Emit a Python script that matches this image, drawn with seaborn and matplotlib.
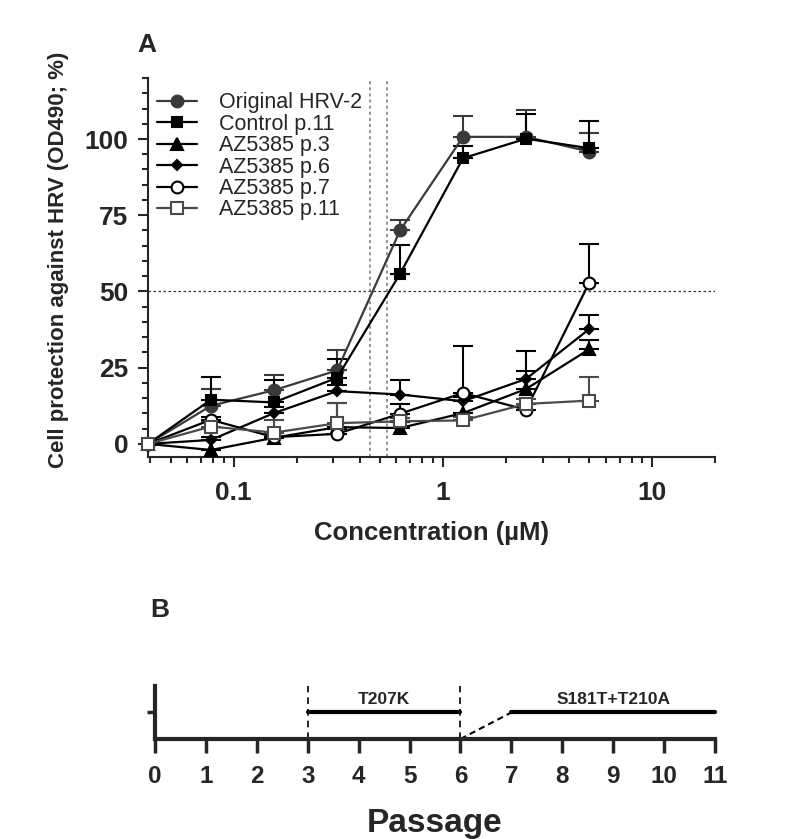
import matplotlib
matplotlib.use('Agg')
import matplotlib.pyplot as plt
import seaborn as sns
import pandas as pd
import numpy as np
from matplotlib.ticker import FixedLocator, NullFormatter, LogLocator

# ---- Panel A data ----
conc = [0.039, 0.078, 0.156, 0.3125, 0.625, 1.25, 2.5, 5]
series = ['Original HRV-2', 'Control p.11', 'AZ5385 p.3', 'AZ5385 p.6', 'AZ5385 p.7', 'AZ5385 p.11']

orig_hrv2 = [0, 12.5, 17.6, 24.1, 70.0, 100.7, 100.7, 95.9]
orig_hrv2_err = [0, 5.5, 4.9, 6.6, 3.4, 7.0, 8.7, 6.0]
control_p11 = [0, 14.5, 13.6, 21.7, 55.8, 93.7, 100.1, 97.0]
control_p11_err = [0, 7.5, 7.3, 6.0, 9.3, 4.0, 8.0, 8.8]
az_p3 = [0, -2.0, 2.0, 5.5, 5.2, 10.1, 18.0, 31.0]
az_p3_err = [0, 0, 1.5, 8.0, 2.0, 5.5, 5.9, 3.0]
az_p6 = [0, 1.3, 10.1, 17.3, 16.2, 14.0, 21.3, 37.6]
az_p6_err = [0, 1.0, 2.0, 2.0, 4.9, 1.5, 9.2, 4.6]
az_p7 = [0, 7.9, 2.2, 3.3, 9.9, 16.7, 11.2, 52.7]
az_p7_err = [0, 1.0, 1.5, 1.5, 3.3, 15.4, 2.0, 12.8]
az_p11 = [0, 5.7, 3.7, 6.8, 7.4, 7.7, 13.1, 14.2]
az_p11_err = [0, 1.5, 4.2, 6.7, 1.0, 1.0, 1.5, 7.7]

values = [orig_hrv2, control_p11, az_p3, az_p6, az_p7, az_p11]
errors = [orig_hrv2_err, control_p11_err, az_p3_err, az_p6_err, az_p7_err, az_p11_err]

ec50_lines = [0.45, 0.54]
half_line = 50

# ---- Panel B data ----
passages = list(range(0, 12))
mutations = ['T207K', 'S181T+T210A']
mut_start = [3, 7]
mut_end = [6, 11]

df = pd.DataFrame({
    'conc': np.tile(conc, len(series)),
    'prot': np.concatenate(values),
    'err': np.concatenate(errors),
    'series': np.repeat(series, len(conc)),
})

sns.set_style('ticks')
plt.rcParams['font.family'] = ['Liberation Sans', 'DejaVu Sans']

fig = plt.figure(figsize=(7.93, 8.39), dpi=100)
ax = fig.add_axes([0.1866, 0.4553, 0.7150, 0.4517])

styles = {
    'Original HRV-2': dict(marker='o', color='#3a3a3a', mfc='#3a3a3a', ms=8.5),
    'Control p.11': dict(marker='s', color='black', mfc='black', ms=7.5),
    'AZ5385 p.3': dict(marker='^', color='black', mfc='black', ms=8),
    'AZ5385 p.6': dict(marker='D', color='black', mfc='black', ms=5.5),
    'AZ5385 p.7': dict(marker='o', color='black', mfc='white', ms=8.5),
    'AZ5385 p.11': dict(marker='s', color='#4a4a4a', mfc='white', ms=8),
}

# dotted guide lines
for x in ec50_lines:
    ax.axvline(x, color='#777777', ls=(0, (2, 2)), lw=1.1, zorder=0)
ax.axhline(half_line, color='#333333', ls=(0, (2, 2)), lw=0.9, zorder=0)

for name in series:
    sub = df[df['series'] == name]
    st = styles[name]
    ax.errorbar(sub['conc'], sub['prot'], yerr=[np.zeros(len(sub)), sub['err']],
                fmt='none', ecolor=st['color'], elinewidth=1.5, capsize=7,
                capthick=1.5, zorder=2)
for name in series:
    sub = df[df['series'] == name]
    st = styles[name]
    sns.lineplot(data=sub, x='conc', y='prot', ax=ax, label=name,
                 color=st['color'], marker=st['marker'], markersize=st['ms'],
                 markerfacecolor=st['mfc'], markeredgecolor=st['color'],
                 markeredgewidth=1.5, linewidth=1.6, errorbar=None,
                 clip_on=False, zorder=3)

ax.set_xscale('log')
ax.set_xlim(0.039, 20)
ax.set_ylim(-4.3, 120)
ax.xaxis.set_major_locator(FixedLocator([0.1, 1, 10]))
ax.xaxis.set_major_formatter(matplotlib.ticker.FixedFormatter(['0.1', '1', '10']))
ax.xaxis.set_minor_locator(LogLocator(base=10, subs=np.arange(2, 10)))
ax.xaxis.set_minor_formatter(NullFormatter())
ax.yaxis.set_major_locator(FixedLocator([0, 25, 50, 75, 100]))
ax.yaxis.set_minor_locator(FixedLocator(np.arange(0, 121, 5)))
ax.tick_params(axis='both', which='major', length=7, width=1.5, labelsize=19,
               direction='out')
ax.tick_params(axis='x', which='major', pad=10)
ax.tick_params(axis='y', which='major', pad=7)
ax.tick_params(axis='both', which='minor', length=4.5, width=1.5, direction='out')
for lab in ax.get_xticklabels() + ax.get_yticklabels():
    lab.set_fontweight('bold')
for s in ['top', 'right']:
    ax.spines[s].set_visible(False)
for s in ['left', 'bottom']:
    ax.spines[s].set_linewidth(1.5)
ax.set_xlabel('Concentration (µM)', fontsize=18.5, fontweight='bold', labelpad=12)
ax.set_ylabel('Cell protection against HRV (OD490; %)', fontsize=16,
              fontweight='bold', labelpad=10)
ax.yaxis.set_label_coords(-0.14, 0.52)
ax.legend(loc='upper left', bbox_to_anchor=(0.0, 0.985), frameon=False,
          fontsize=15.5, handlelength=1.9, handletextpad=1.0, labelspacing=0.02,
          borderaxespad=0)

fig.text(147 / 793, 1 - 45 / 839, 'A', fontsize=19, fontweight='bold',
         ha='center', va='center')

# ---- Panel B ----
ax2 = fig.add_axes([0.1955, 0.1192, 0.7061, 0.0632])
for name, a, b in zip(mutations, mut_start, mut_end):
    ax2.plot([a, b], [1, 1], color='black', lw=3, clip_on=False)
    ax2.text((a + b) / 2, 1.2, name, ha='center', va='bottom', fontsize=12.5,
             fontweight='bold')
for x in [mut_start[0], mut_end[0]]:
    ax2.plot([x, x], [0, 2], color='black', ls=(0, (4, 3)), lw=1.2, clip_on=False)
ax2.plot([mut_end[0], mut_start[1]], [0, 1], color='black', ls=(0, (3, 2)), lw=1.5,
         clip_on=False)
ax2.set_xlim(0, 11)
ax2.set_ylim(0, 2)
ax2.set_xticks(passages)
ax2.set_yticks([1])
ax2.set_yticklabels([''])
ax2.tick_params(axis='x', length=10, width=2.5, labelsize=17.5, pad=9)
ax2.tick_params(axis='y', length=6, width=2.5)
for lab in ax2.get_xticklabels():
    lab.set_fontweight('bold')
for s in ['top', 'right']:
    ax2.spines[s].set_visible(False)
for s in ['left', 'bottom']:
    ax2.spines[s].set_linewidth(3)
ax2.set_xlabel('Passage', fontsize=24, fontweight='bold', labelpad=14)

fig.text(160 / 793, 1 - 610 / 839, 'B', fontsize=19, fontweight='bold',
         ha='center', va='center')

fig.savefig('out.png', dpi=100)
